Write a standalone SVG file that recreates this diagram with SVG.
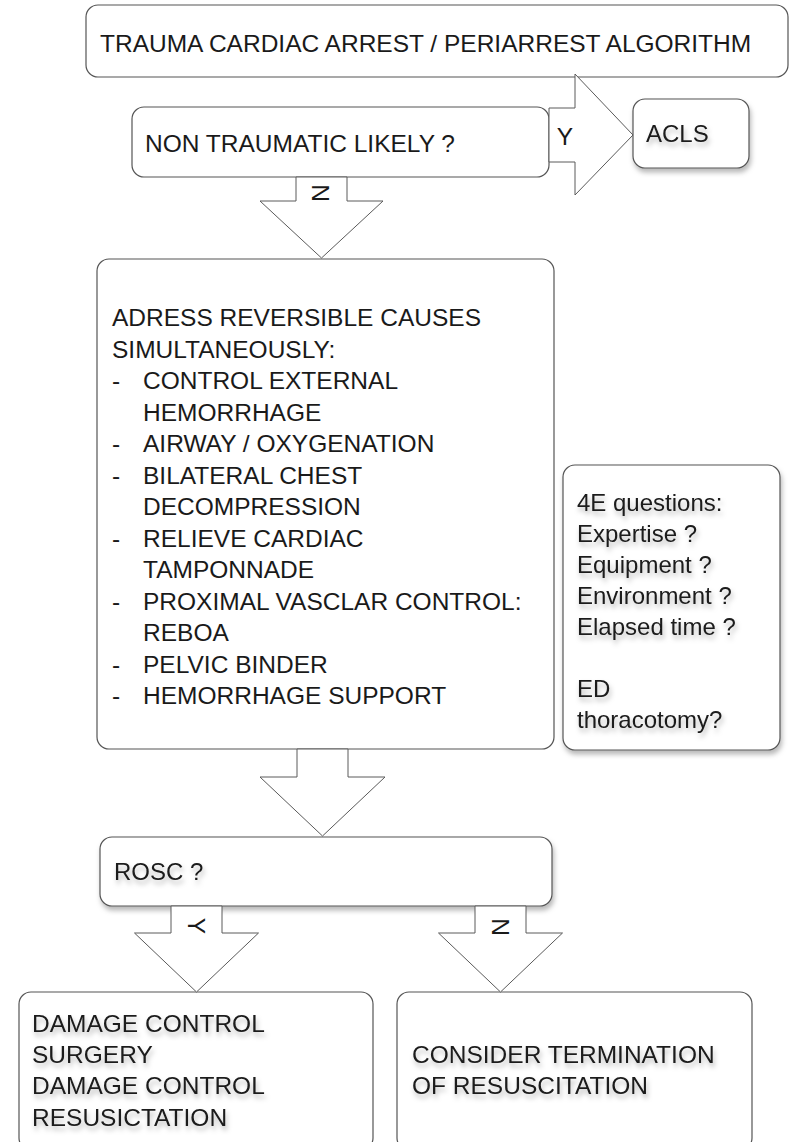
<svg xmlns="http://www.w3.org/2000/svg" width="790" height="1142" viewBox="0 0 790 1142">
<defs>
<filter id="sh" x="-10%" y="-20%" width="130%" height="160%">
<feDropShadow dx="1.5" dy="4" stdDeviation="2.5" flood-color="#000" flood-opacity="0.28"/>
</filter>
<style>
.box{fill:#fff;stroke:#555;stroke-width:1.2}
.arr{fill:#fff;stroke:#5a5a5a;stroke-width:1}
text{font-family:"Liberation Sans",Arial,sans-serif;fill:#1a1a1a}
.t{font-size:24.5px}
.s{font-size:24px}
.shd{filter:url(#sh)}
</style>
</defs>
<rect width="790" height="1142" fill="#fff"/>
<g id="title">
<rect class="box" x="86" y="5" width="702" height="72" rx="12"/>
<text class="t" x="100" y="52">TRAUMA CARDIAC ARREST / PERIARREST ALGORITHM</text>
</g>
<g id="nontraumatic">
<rect class="box" x="132" y="107" width="417" height="70" rx="12"/>
<text class="t" x="145" y="152">NON TRAUMATIC LIKELY ?</text>
</g>
<g id="acls">
<rect class="box shd" x="633" y="99" width="116" height="69" rx="12"/>
<text class="s shd" x="646" y="142">ACLS</text>
</g>
<g id="causes">
<rect class="box" x="97" y="259" width="457" height="490" rx="12"/>
<text class="t">
<tspan x="112" y="326">ADRESS REVERSIBLE CAUSES</tspan>
<tspan x="112" y="357.5">SIMULTANEOUSLY:</tspan>
<tspan x="112" y="389">-</tspan><tspan x="143" y="389">CONTROL EXTERNAL</tspan>
<tspan x="143" y="420.5">HEMORRHAGE</tspan>
<tspan x="112" y="452">-</tspan><tspan x="143" y="452">AIRWAY / OXYGENATION</tspan>
<tspan x="112" y="483.5">-</tspan><tspan x="143" y="483.5">BILATERAL CHEST</tspan>
<tspan x="143" y="515">DECOMPRESSION</tspan>
<tspan x="112" y="546.5">-</tspan><tspan x="143" y="546.5">RELIEVE CARDIAC</tspan>
<tspan x="143" y="578">TAMPONNADE</tspan>
<tspan x="112" y="609.5">-</tspan><tspan x="143" y="609.5">PROXIMAL VASCLAR CONTROL:</tspan>
<tspan x="143" y="641">REBOA</tspan>
<tspan x="112" y="672.5">-</tspan><tspan x="143" y="672.5">PELVIC BINDER</tspan>
<tspan x="112" y="704">-</tspan><tspan x="143" y="704">HEMORRHAGE SUPPORT</tspan>
</text>
</g>
<g id="fourE">
<rect class="box shd" x="563" y="465" width="217" height="285" rx="12"/>
<text class="s shd">
<tspan x="577" y="511">4E questions:</tspan>
<tspan x="577" y="542">Expertise ?</tspan>
<tspan x="577" y="573">Equipment ?</tspan>
<tspan x="577" y="604">Environment ?</tspan>
<tspan x="577" y="635">Elapsed time ?</tspan>
<tspan x="577" y="697">ED</tspan>
<tspan x="577" y="728">thoracotomy?</tspan>
</text>
</g>
<g id="rosc">
<rect class="box shd" x="100" y="837" width="452" height="69" rx="12"/>
<text class="s shd" x="114" y="880">ROSC ?</text>
</g>
<g id="damage">
<rect class="box" x="19" y="992" width="354" height="158" rx="12"/>
<text class="t shd">
<tspan x="32" y="1032">DAMAGE CONTROL</tspan>
<tspan x="32" y="1063">SURGERY</tspan>
<tspan x="32" y="1094">DAMAGE CONTROL</tspan>
<tspan x="32" y="1126">RESUSICTATION</tspan>
</text>
</g>
<g id="termination">
<rect class="box" x="397" y="992" width="355" height="158" rx="12"/>
<text class="t shd">
<tspan x="412" y="1063">CONSIDER TERMINATION</tspan>
<tspan x="412" y="1094">OF RESUSCITATION</tspan>
</text>
</g>
<g id="connectors">
<polygon class="arr" points="549,108 575,108 575,74 633,135 575,195 575,162 549,162"/>
<text class="t" x="565" y="145" text-anchor="middle">Y</text>
<polygon class="arr" points="296,177 347,177 347,201 383,201 321.5,258 260,201 296,201"/>
<text class="t" text-anchor="middle" transform="translate(321,193) rotate(90)" y="9">N</text>
<polygon class="arr" points="297,749 348,749 348,777 385,777 322.5,836 260,777 297,777"/>
<polygon class="arr" points="171,906 222,906 222,933 258.5,933 196.5,992 134.5,933 171,933"/>
<text class="t" text-anchor="middle" transform="translate(196.5,926) rotate(90)" y="9">Y</text>
<polygon class="arr" points="475,906 526,906 526,933 562.5,933 500.5,992 438.5,933 475,933"/>
<text class="t" text-anchor="middle" transform="translate(500.5,927) rotate(90)" y="9">N</text>
</g>
</svg>
